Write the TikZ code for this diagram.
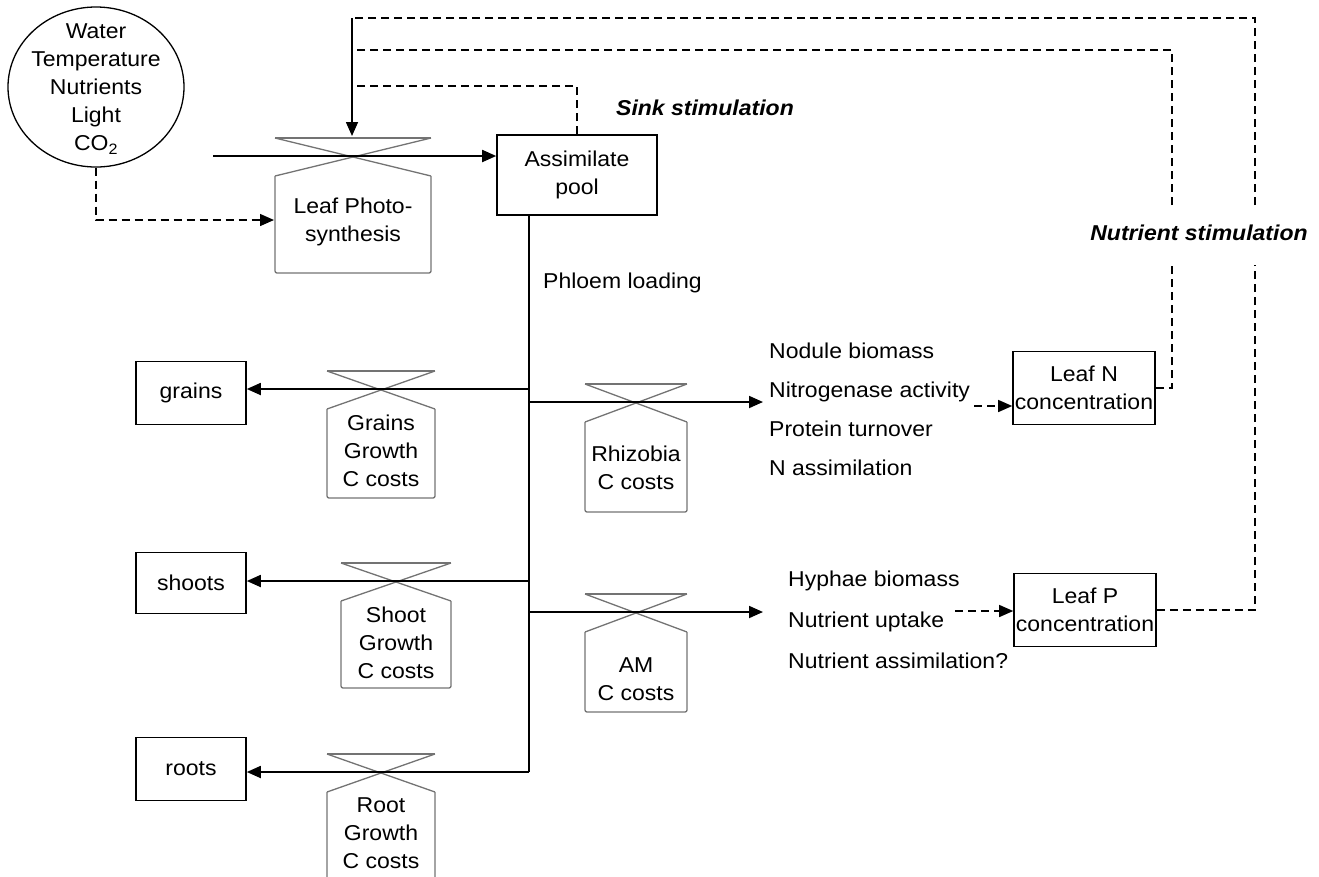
\documentclass[tikz,border=0pt]{standalone}
\usepackage{fontspec}
\setmainfont[FakeStretch=1.07]{Liberation Sans}
\usetikzlibrary{arrows.meta,shapes.geometric,positioning}

\tikzset{
  box/.style={draw, line width=1.6pt, align=center, inner sep=0pt},
  flow/.style={line width=1.8pt, -{Triangle[length=14pt,width=12pt]}},
  info/.style={line width=1.4pt, dash pattern=on 8pt off 5pt, -{Triangle[length=14pt,width=12pt]}},
  infoline/.style={line width=1.4pt, dash pattern=on 8pt off 5pt},
  valveline/.style={draw=black!55, line width=1.3pt, rounded corners=2pt},
  lbl/.style={align=center, inner sep=0pt},
  stim/.style={inner sep=0pt, font=\fontsize{21.5}{28}\selectfont\bfseries\itshape},
}
% valve: centre x, centre y, half width, bottom
\newcommand{\valve}[4]{%
  \draw[valveline] ({#1-#3},{#2-18}) -- ({#1+#3},{#2-18});
  \draw[valveline] ({#1-#3},{#2-18}) -- ({#1+#3},{#2+20});
  \draw[valveline] ({#1+#3},{#2-18}) -- ({#1-#3},{#2+20});
  \draw[valveline] ({#1-#3},{#2+20}) -- ({#1-#3},#4) -- ({#1+#3},#4) -- ({#1+#3},{#2+20});
}

\begin{document}
\begin{tikzpicture}[x=1pt, y=-1pt, font=\fontsize{21.5}{28}\selectfont, >=Triangle]
 \useasboundingbox (0,0) rectangle (1319,876);
 \clip (0,0) rectangle (1319,876);

 \node[ellipse, draw, line width=1.3pt, minimum width=176pt, minimum height=160pt] (env) at (96,87) {};
 \node[lbl] (envtext) at (96,89) {Water\\Temperature\\Nutrients\\Light\\CO\textsubscript{2}};

 \valve{353}{156}{78}{273}
 \node[lbl] (photo) at (353,222) {Leaf Photo-\\synthesis};
 \valve{381}{389}{54}{498}
 \node[lbl] (grainsc) at (381,451) {Grains\\Growth\\C costs};
 \valve{636}{402}{51}{512}
 \node[lbl] (rhizc) at (636,468) {Rhizobia\\C costs};
 \valve{396}{581}{55}{688}
 \node[lbl] (shootc) at (396,643) {Shoot\\Growth\\C costs};
 \valve{636}{612}{51}{712}
 \node[lbl] (amc) at (636,679) {AM\\C costs};
 \valve{381}{772}{54}{900}
 \node[lbl] (rootc) at (381,833) {Root\\Growth\\C costs};

 \node[box, minimum width=160pt, minimum height=80pt] (pool) at (577,175) {Assimilate\\pool};
 \node[box, minimum width=110pt, minimum height=63pt] (grains) at (191,393) {grains};
 \node[box, minimum width=110pt, minimum height=61pt] (shoots) at (191,583) {shoots};
 \node[box, minimum width=110pt, minimum height=63pt] (roots) at (191,769) {roots};
 \node[box, minimum width=142pt, minimum height=73pt] (leafN) at (1084,388) {Leaf N\\concentration};
 \node[box, minimum width=142pt, minimum height=73pt] (leafP) at (1085,610) {Leaf P\\concentration};

 \node[stim] (sink) at (705,108) {Sink stimulation};
 \node[stim] (nutstim) at (1199,233) {Nutrient stimulation};
 \node[anchor=west, inner sep=0pt] (phloem) at (543,283) {Phloem loading};
 \node[anchor=west, align=left, inner sep=0pt, font=\fontsize{21.5}{39}\selectfont] (nlist) at (769,409) {Nodule biomass\\Nitrogenase activity\\Protein turnover\\N assimilation};
 \node[anchor=west, align=left, inner sep=0pt, font=\fontsize{21.5}{41}\selectfont] (plist) at (788,620) {Hyphae biomass\\Nutrient uptake\\Nutrient assimilation?};

 \coordinate (src) at (213,156);
 \coordinate (photoin) at (274,220);
 \coordinate (fbA) at (352,18);
 \coordinate (fbB) at (352,50);
 \coordinate (fbC) at (352,86);
 \coordinate (photoctl) at (352,136);
 \coordinate (ptop) at (529,215);
 \coordinate (jgrains) at (529,389);
 \coordinate (jrhiz) at (529,402);
 \coordinate (jshoot) at (529,581);
 \coordinate (jam) at (529,612);
 \coordinate (jroot) at (529,772);
 \coordinate (nodtip) at (763,402);
 \coordinate (hyptip) at (763,612);
 \coordinate (nact) at (974,406);
 \coordinate (upt) at (955,611);
 \coordinate (gapN1) at (1172,265);
 \coordinate (gapN2) at (1172,205);
 \coordinate (gapP1) at (1255,265);
 \coordinate (gapP2) at (1255,205);

 \draw[flow] (src) -- (src -| pool.west);
 \draw[flow, line width=1.6pt] (fbA) -- (photoctl);
 \draw[info] (env.south) |- (photoin);
 \draw[infoline] (pool.north) |- (fbC);
 \draw[infoline] (gapN2) |- (fbB);
 \draw[infoline] (leafN.east) -| (gapN1);
 \draw[infoline] (gapP2) |- (fbA);
 \draw[infoline] (leafP.east) -| (gapP1);

 \draw[line width=1.8pt] (ptop) -- (jroot);
 \draw[flow] (jgrains) -- (jgrains -| grains.east);
 \draw[flow] (jshoot) -- (jshoot -| shoots.east);
 \draw[flow] (jroot) -- (jroot -| roots.east);
 \draw[flow] (jrhiz) -- (nodtip);
 \draw[flow] (jam) -- (hyptip);
 \draw[info] (nact) -- (nact -| leafN.west);
 \draw[info] (upt) -- (upt -| leafP.west);
\end{tikzpicture}
\end{document}
